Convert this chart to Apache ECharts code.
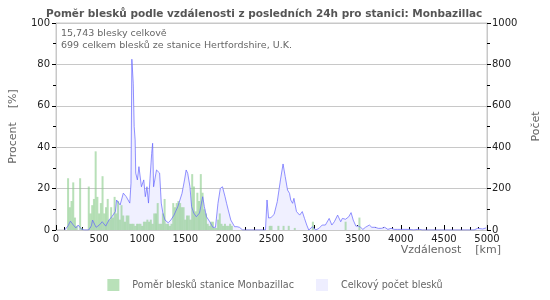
<!DOCTYPE html>
<html>
<head>
<meta charset="utf-8">
<script src="https://cdn.jsdelivr.net/npm/echarts@6/dist/echarts.min.js"></script>
<style>
html,body{margin:0;padding:0;background:#fff;}
#chart{width:550px;height:300px;}
</style>
</head>
<body>
<div id="chart"></div>
<script>
// pomer blesku stanice (procenta) po vzdalenosti
var barDist = [140,160,180,200,220,240,280,300,380,400,420,440,460,480,500,520,540,560,580,600,620,640,660,680,700,720,740,760,780,800,820,840,860,880,900,920,940,960,980,1000,1020,1040,1060,1080,1100,1120,1140,1160,1180,1200,1220,1240,1260,1280,1300,1320,1340,1360,1380,1400,1420,1440,1460,1480,1500,1520,1540,1560,1580,1600,1620,1640,1660,1680,1700,1720,1740,1760,1780,1800,1820,1840,1860,1880,1900,1920,1940,1960,1980,2000,2020,2040,2480,2500,2580,2640,2700,2770,2980,3360,3520];
var barPct = [25,11,14,23,6,2,25,1,21,8,12,15,38,16,8,13,26,8,11,15,5,11,6,16,8,14,5,12,7,4,7,7,3,3,3,2,3,3,3,2,4,4,5,4,5,3,8,8,13,3,3,8,15,3,3,2,3,13,11,13,14,13,11,11,5,7,7,5,27,21,9,18,14,27,18,10,8,3,2,4,4,1,1,5,8,3,2,3,2,2,3,2,2,2,2,2,2,1,4,4,6];

// celkovy pocet blesku
var lineDist = [100,112,140,167,201,231,257,298,330,379,410,424,465,502,536,577,614,647,689,703,744,781,815,856,870,880,896,907,918,925,944,962,991,1018,1036,1055,1073,1091,1110,1121,1132,1147,1166,1184,1202,1221,1240,1265,1302,1332,1369,1413,1462,1491,1510,1528,1554,1573,1598,1628,1665,1702,1721,1746,1784,1820,1850,1879,1906,1931,1961,1979,1998,2028,2072,2100,2128,2165,2430,2448,2466,2493,2530,2567,2604,2634,2659,2686,2709,2723,2745,2760,2790,2827,2857,2883,2909,2932,2976,3013,3050,3088,3125,3169,3200,3229,3267,3303,3322,3359,3396,3423,3448,3479,3508,3534,3560,3590,3635,3664,3702,3739,3775,3813,3850,3887,3925,3962,4000,4100,4150,4190,4220,4250,4850,4890,4950,4990];
var lineCount = [0,3,20,43,24,10,24,3,0,0,20,48,13,24,40,19,48,64,89,145,121,178,161,130,226,825,709,499,435,275,242,306,209,242,161,209,130,250,370,419,209,209,290,299,275,130,82,48,35,48,72,113,177,242,290,274,209,113,82,64,82,161,113,64,40,13,13,129,201,209,161,129,97,48,16,16,13,0,0,145,58,60,75,137,242,319,258,193,177,145,129,153,89,72,89,56,24,0,16,0,8,24,24,56,24,40,72,40,56,52,64,84,48,19,19,13,3,13,24,13,13,8,8,13,3,8,3,3,3,3,0,3,3,0,0,8,5,10];

var title = 'Poměr blesků podle vzdálenosti z posledních 24h pro stanici: Monbazillac';
var infoLines = ['15,743 blesky celkově', '699 celkem blesků ze stanice Hertfordshire, U.K.'];
var nameBar = 'Poměr blesků stanice Monbazillac';
var nameLine = 'Celkový počet blesků';

var barData = barDist.map(function (d, i) { return [d, barPct[i]]; });
var lineData = lineDist.map(function (d, i) { return [d, lineCount[i]]; });

function plain(v) { return String(v); }

var font = 'DejaVu Sans';
var chart = echarts.init(document.getElementById('chart'));
chart.setOption({
    animation: false,
    textStyle: {fontFamily: font},
    title: {
        text: title,
        left: 41,
        top: 4,
        textStyle: {fontSize: 10.5, fontWeight: 'bold', color: '#555', fontFamily: font}
    },
    graphic: [
        {type: 'text', left: 61, top: 28, style: {text: infoLines.join('\n'), fill: '#666', font: '9.5px ' + font, lineHeight: 12}}
    ],
    legend: {
        bottom: 4,
        left: 'center',
        itemWidth: 12,
        itemHeight: 12,
        itemGap: 22,
        icon: 'rect',
        textStyle: {fontSize: 9.6, color: '#666', padding: [0, 0, 0, 8]},
        data: [
            {name: nameBar, itemStyle: {color: '#b9e1b9'}},
            {name: nameLine, itemStyle: {color: '#eeeeff'}}
        ]
    },
    grid: {left: 50, right: 51, top: 23, bottom: 70, show: true, borderColor: '#c8c8c8', borderWidth: 1},
    xAxis: {
        type: 'value',
        min: 0,
        max: 5000,
        interval: 500,
        name: 'Vzdálenost    [km]',
        nameLocation: 'end',
        nameGap: 14,
        nameTextStyle: {align: 'right', verticalAlign: 'top', padding: [15, 0, 0, 0], fontSize: 11, color: '#666'},
        axisLine: {lineStyle: {color: '#c8c8c8'}},
        axisTick: {inside: true, length: 5, lineStyle: {color: '#000'}},
        minorTick: {show: true, splitNumber: 5, length: 3, lineStyle: {color: '#000'}},
        axisLabel: {fontSize: 10, color: '#222', margin: 4, formatter: plain},
        splitLine: {show: false}
    },
    yAxis: [
        {
            type: 'value',
            min: 0,
            max: 100,
            interval: 20,
            name: 'Procent    [%]',
            nameLocation: 'middle',
            nameGap: 37,
            nameTextStyle: {fontSize: 11, color: '#666'},
            axisLine: {show: true, lineStyle: {color: '#c8c8c8'}},
            axisTick: {show: true, length: 4, lineStyle: {color: '#000'}},
            minorTick: {show: true, splitNumber: 2, length: 3, lineStyle: {color: '#000'}},
            axisLabel: {fontSize: 10, color: '#222', margin: 6, formatter: plain},
            splitLine: {lineStyle: {color: '#c8c8c8'}}
        },
        {
            type: 'value',
            min: 0,
            max: 1000,
            interval: 200,
            name: 'Počet',
            nameLocation: 'middle',
            nameGap: 44,
            nameTextStyle: {fontSize: 11, color: '#666'},
            axisLine: {show: true, lineStyle: {color: '#c8c8c8'}},
            axisTick: {show: true, length: 4, lineStyle: {color: '#000'}},
            minorTick: {show: true, splitNumber: 2, length: 3, lineStyle: {color: '#000'}},
            axisLabel: {fontSize: 10, color: '#222', margin: 5, formatter: plain},
            splitLine: {show: false}
        }
    ],
    series: [
        {
            name: nameLine,
            type: 'line',
            yAxisIndex: 1,
            data: lineData,
            symbol: 'none',
            color: '#eeeeff',
            lineStyle: {width: 0},
            areaStyle: {color: '#f0f0ff', opacity: 1},
            z: 1
        },
        {
            name: nameBar,
            type: 'bar',
            yAxisIndex: 0,
            data: barData,
            barWidth: 2,
            itemStyle: {color: 'rgba(140,205,140,0.62)'},
            z: 2
        },
        {
            name: nameLine,
            type: 'line',
            yAxisIndex: 1,
            data: lineData,
            symbol: 'none',
            lineStyle: {width: 1, color: 'rgba(100,100,255,0.7)'},
            z: 3
        }
    ]
});
</script>
</body>
</html>
